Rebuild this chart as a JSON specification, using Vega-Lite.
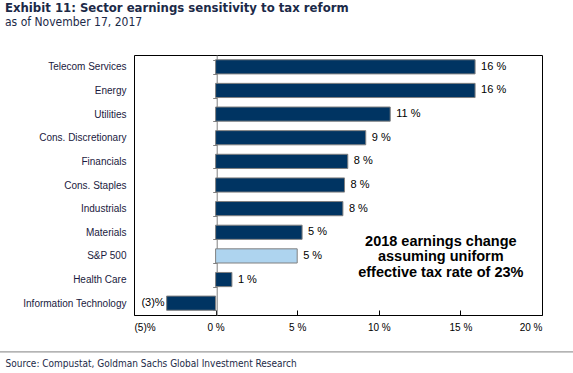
{
  "$schema": "https://vega.github.io/schema/vega-lite/v6.json",
  "width": 408,
  "height": 260,
  "autosize": {"type": "none"},
  "padding": {"left": 134, "top": 55, "right": 31, "bottom": 58},
  "background": "white",
  "config": {
    "view": {"stroke": "black", "strokeWidth": 1},
    "font": "Liberation Sans"
  },
  "title": {
    "text": "Exhibit 11: Sector earnings sensitivity to tax reform",
    "subtitle": "as of November 17, 2017",
    "anchor": "start",
    "frame": "group",
    "dx": -129,
    "offset": 22,
    "font": "'Liberation Sans Narrow', 'DejaVu Sans Condensed', 'Roboto Condensed', 'Liberation Sans', sans-serif",
    "fontSize": 13,
    "fontWeight": "bold",
    "color": "#1c2a48",
    "subtitleFont": "'Liberation Sans Narrow', 'DejaVu Sans Condensed', 'Roboto Condensed', 'Liberation Sans', sans-serif",
    "subtitleFontSize": 12,
    "subtitleColor": "#1c2a48",
    "subtitlePadding": 2
  },
  "layer": [
    {
      "data": {
        "values": [
          {"sector": "Telecom Services", "v": 15.9},
          {"sector": "Energy", "v": 15.9},
          {"sector": "Utilities", "v": 10.7},
          {"sector": "Cons. Discretionary", "v": 9.2},
          {"sector": "Financials", "v": 8.1},
          {"sector": "Cons. Staples", "v": 7.9},
          {"sector": "Industrials", "v": 7.8},
          {"sector": "Materials", "v": 5.3},
          {"sector": "S&P 500", "v": 5.0},
          {"sector": "Health Care", "v": 1.0},
          {"sector": "Information Technology", "v": -3.0}
        ]
      },
      "encoding": {
        "y": {
          "field": "sector",
          "type": "nominal",
          "sort": null,
          "scale": {"paddingInner": 0.4, "paddingOuter": 0.2},
          "axis": {
            "title": null,
            "offset": -82.7,
            "domainColor": "#808080",
            "tickColor": "#808080",
            "tickSize": 4,
            "tickBand": "extent",
            "labelPadding": 86.7,
            "labelFontSize": 10,
            "labelColor": "#1a1a40",
            "labelFont": "Liberation Sans"
          }
        },
        "x": {
          "field": "v",
          "type": "quantitative",
          "scale": {"domain": [-5, 20], "nice": false, "zero": false},
          "axis": {
            "values": [-5, 0, 5, 10, 15, 20],
            "grid": false,
            "domain": false,
            "tickColor": "black",
            "tickSize": -5,
            "labelPadding": 12,
            "labelFontSize": 10,
            "labelColor": "black",
            "labelExpr": "datum.value < 0 ? '(' + (-datum.value) + ')%' : datum.value + ' %'",
            "title": "Source: Compustat, Goldman Sachs Global Investment Research",
            "titleX": -129,
            "titleY": 48,
            "titleAlign": "left",
            "titleBaseline": "middle",
            "titleFont": "'Liberation Sans Narrow', 'DejaVu Sans Condensed', 'Roboto Condensed', 'Liberation Sans', sans-serif",
            "titleFontSize": 10,
            "titleFontWeight": "normal",
            "titleColor": "#1c2a48"
          }
        }
      },
      "layer": [
        {
          "mark": {"type": "bar", "stroke": "#808080", "strokeWidth": 1},
          "encoding": {
            "color": {
              "condition": {"test": "datum.sector === 'S&P 500'", "value": "#aed4ef"},
              "value": "#003462"
            }
          }
        },
        {
          "transform": [
            {"filter": "datum.v >= 0"},
            {"calculate": "format(datum.v, '.0f') + ' %'", "as": "label"}
          ],
          "mark": {"type": "text", "align": "left", "dx": 6, "fontSize": 11, "color": "black"},
          "encoding": {"text": {"field": "label"}}
        },
        {
          "transform": [
            {"filter": "datum.v < 0"},
            {"calculate": "'(' + format(-datum.v, '.0f') + ')%'", "as": "label"}
          ],
          "mark": {"type": "text", "align": "right", "dx": -2, "fontSize": 11, "color": "black"},
          "encoding": {"text": {"field": "label"}}
        },
        {
          "transform": [{"filter": "datum.sector === 'S&P 500'"}],
          "mark": {
            "type": "text",
            "fontSize": 14.5,
            "fontWeight": "bold",
            "lineHeight": 15.5,
            "align": "center",
            "baseline": "middle",
            "dy": -14,
            "color": "black"
          },
          "encoding": {
            "x": {"datum": 13.8, "type": "quantitative"},
            "text": {"value": ["2018 earnings change", "assuming uniform", "effective tax rate of 23%"]}
          }
        }
      ]
    },
    {
      "data": {"values": [{"note": "source rule"}]},
      "mark": {"type": "rule", "color": "#808080", "strokeWidth": 1, "clip": false},
      "encoding": {
        "x": {"datum": -13.3, "type": "quantitative"},
        "x2": {"datum": 21.9},
        "y": {"datum": -0.142, "type": "quantitative", "scale": {"domain": [0, 1]}, "axis": null}
      }
    }
  ],
  "resolve": {"scale": {"y": "independent"}, "axis": {"y": "independent"}}
}
